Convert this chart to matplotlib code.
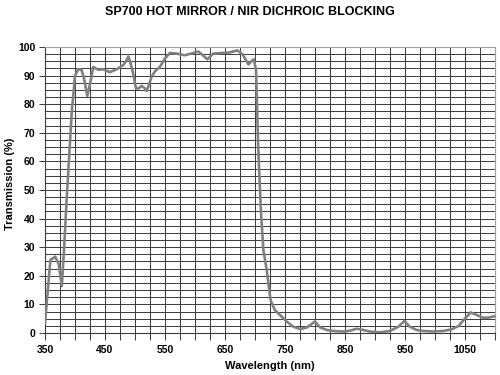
import matplotlib
matplotlib.use('Agg')
import matplotlib.pyplot as plt
from matplotlib.ticker import MultipleLocator, FixedLocator

# Transmission curve (wavelength nm, transmission %)
wavelength = [350, 359, 367, 373, 378, 382, 386, 388, 394.5, 400, 405.5, 411, 415,
              420.5, 425, 430.5, 439, 447, 458, 469.5, 480.5, 485, 489, 493, 497,
              501.7, 506, 511, 515, 519.5, 527.8, 533, 541.7, 550, 558, 569.5, 583,
              597, 605.5, 611, 620.5, 630.5, 644.5, 658, 670.5, 679.5, 689, 694.5,
              698, 701.7, 705.5, 710, 714, 719.5, 726, 733, 741.7, 752.8, 763.9,
              775, 786, 800, 808, 819.5, 830.5, 847, 858, 869.5, 880.5, 891.7, 908,
              925, 939, 949, 958, 969.5, 980.5, 997, 1014, 1028, 1039, 1050, 1059.5,
              1069.5, 1080.5, 1090, 1100]
transmission = [3.5, 25.5, 26.7, 24, 16.4, 30, 46.5, 53.5, 77, 90, 92.2, 92, 89,
                82.9, 87, 93, 92, 92.2, 91.2, 92.2, 93.7, 95, 96.7, 94, 90.7,
                85.5, 85.5, 86.4, 85.8, 84.6, 89.6, 91.4, 93.1, 96, 97.9, 97.7, 97.1,
                97.9, 98.4, 97.5, 95.7, 97.7, 97.9, 98.1, 98.8, 97.4, 93.9, 95.1,
                95.7, 92, 64, 42, 29, 22, 11.5, 8, 6.3, 4, 2.2,
                1.4, 1.9, 4, 2, 1.05, 0.7, 0.5, 0.8, 1.5, 1.05, 0.5, 0.25,
                0.7, 2.2, 4.2, 2.2, 1.05, 0.7, 0.5, 0.7, 1.3, 2.4, 5.1, 7.2,
                6.3, 5.3, 5.4, 5.9]

x_ticks = [350, 450, 550, 650, 750, 850, 950, 1050]
y_ticks = [0, 10, 20, 30, 40, 50, 60, 70, 80, 90, 100]

plt.rcParams['font.family'] = ['Liberation Sans', 'DejaVu Sans']

fig = plt.figure(figsize=(5, 3.75), dpi=100)
ax = fig.add_axes([0.09, 0.112, 0.90, 0.7627])

ax.plot(wavelength, transmission, color='#808080', lw=1.9, zorder=3,
        solid_joinstyle='round')

ax.set_xlim(350, 1100)
ax.set_ylim(0, 100)
ax.xaxis.set_major_locator(FixedLocator(x_ticks))
ax.xaxis.set_minor_locator(MultipleLocator(25))
ax.yaxis.set_major_locator(FixedLocator(y_ticks))
ax.yaxis.set_minor_locator(MultipleLocator(2.5))

ax.grid(which='both', color='#3a3a3a', lw=0.7)
ax.set_axisbelow(True)

ax.tick_params(axis='x', which='both', direction='out', length=5, width=0.7,
               color='#3a3a3a', labelsize=7.5, pad=3.5)
ax.tick_params(axis='y', which='major', direction='out', length=4, width=0.7,
               color='#3a3a3a', labelsize=7.5, pad=3)
ax.tick_params(axis='y', which='minor', length=0)
for lab in ax.get_xticklabels() + ax.get_yticklabels():
    lab.set_fontweight('bold')

for side in ['top', 'right']:
    ax.spines[side].set_color('#a0a0a0')
for side in ['left', 'bottom']:
    ax.spines[side].set_color('#3a3a3a')
for sp in ax.spines.values():
    sp.set_linewidth(0.8)

ax.set_xlabel('Wavelength (nm)', fontsize=8, fontweight='bold')
ax.set_ylabel('Transmission (%)', fontsize=8, fontweight='bold')
ax.xaxis.set_label_coords(0.5, -0.099)
ax.yaxis.set_label_coords(-0.066, 0.52)

fig.text(0.5, 0.967, 'SP700 HOT MIRROR / NIR DICHROIC BLOCKING', ha='center',
         va='center', fontsize=9, fontweight='bold')

fig.savefig('out.png', dpi=100)
